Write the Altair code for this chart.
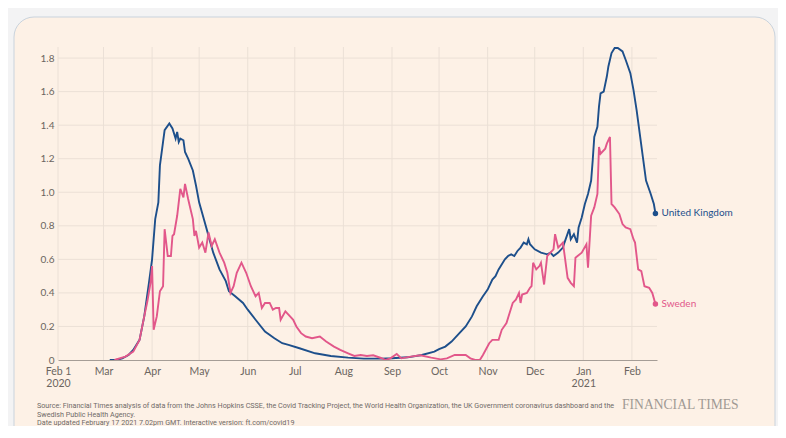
import altair as alt
import pandas as pd

# ---------------- data ----------------
uk_dates = [
    "2020-03-05", "2020-03-09", "2020-03-13", "2020-03-17", "2020-03-20", "2020-03-24",
    "2020-03-27", "2020-03-30", "2020-04-01", "2020-04-03", "2020-04-05", "2020-04-06",
    "2020-04-08", "2020-04-09", "2020-04-12", "2020-04-14", "2020-04-16", "2020-04-17",
    "2020-04-18", "2020-04-19", "2020-04-21", "2020-04-22", "2020-04-24", "2020-04-27",
    "2020-04-29", "2020-05-01", "2020-05-04", "2020-05-07", "2020-05-10", "2020-05-14",
    "2020-05-18", "2020-05-20", "2020-05-24", "2020-05-29", "2020-06-01", "2020-06-06",
    "2020-06-12", "2020-06-18", "2020-06-23", "2020-06-27", "2020-07-04", "2020-07-14",
    "2020-07-24", "2020-08-04", "2020-08-14", "2020-08-25", "2020-09-01", "2020-09-11",
    "2020-09-20", "2020-09-28", "2020-10-01", "2020-10-05", "2020-10-09", "2020-10-14",
    "2020-10-18", "2020-10-22", "2020-10-25", "2020-10-29", "2020-11-01", "2020-11-04",
    "2020-11-06", "2020-11-08", "2020-11-12", "2020-11-14", "2020-11-16", "2020-11-18",
    "2020-11-20", "2020-11-22", "2020-11-24", "2020-11-26", "2020-11-27", "2020-11-28",
    "2020-12-01", "2020-12-05", "2020-12-09", "2020-12-11", "2020-12-13", "2020-12-16",
    "2020-12-19", "2020-12-20", "2020-12-23", "2020-12-24", "2020-12-26", "2020-12-28",
    "2020-12-29", "2020-12-31", "2021-01-02", "2021-01-04", "2021-01-06", "2021-01-07",
    "2021-01-08", "2021-01-10", "2021-01-11", "2021-01-12", "2021-01-14", "2021-01-16",
    "2021-01-17", "2021-01-19", "2021-01-21", "2021-01-23", "2021-01-26", "2021-01-28",
    "2021-01-31", "2021-02-02", "2021-02-04", "2021-02-06", "2021-02-08", "2021-02-10",
    "2021-02-13", "2021-02-15", "2021-02-16",
]
uk_values = [
    0.0, 0.0, 0.01, 0.03, 0.06, 0.12,
    0.26, 0.46, 0.60, 0.84, 0.94, 1.16,
    1.30, 1.37, 1.41, 1.38, 1.32, 1.36,
    1.30, 1.32, 1.31, 1.24, 1.20, 1.13,
    1.04, 0.94, 0.84, 0.74, 0.64, 0.54,
    0.47, 0.41, 0.38, 0.34, 0.30, 0.24,
    0.17, 0.13, 0.10, 0.09, 0.07, 0.04,
    0.024, 0.014, 0.008, 0.008, 0.01, 0.016,
    0.03, 0.05, 0.065, 0.08, 0.11, 0.16,
    0.20, 0.26, 0.32, 0.38, 0.42, 0.48,
    0.50, 0.54, 0.60, 0.62, 0.63, 0.62,
    0.65, 0.67, 0.70, 0.69, 0.72, 0.69,
    0.66, 0.64, 0.63, 0.64, 0.62, 0.64,
    0.67, 0.70, 0.78, 0.72, 0.75, 0.70,
    0.79, 0.85, 0.93, 0.99, 1.07, 1.19,
    1.33, 1.39, 1.51, 1.59, 1.60, 1.69,
    1.75, 1.83, 1.86, 1.86, 1.84, 1.79,
    1.71, 1.61, 1.49, 1.35, 1.21, 1.07,
    0.99, 0.93, 0.874,
]

se_dates = [
    "2020-03-08", "2020-03-15", "2020-03-20", "2020-03-24", "2020-03-27", "2020-03-29",
    "2020-03-31", "2020-04-01", "2020-04-02", "2020-04-04", "2020-04-06", "2020-04-08",
    "2020-04-09", "2020-04-11", "2020-04-13", "2020-04-14", "2020-04-15", "2020-04-17",
    "2020-04-19", "2020-04-21", "2020-04-22", "2020-04-24", "2020-04-25", "2020-04-27",
    "2020-04-28", "2020-04-29", "2020-05-01", "2020-05-03", "2020-05-05", "2020-05-07",
    "2020-05-09", "2020-05-11", "2020-05-14", "2020-05-17", "2020-05-19", "2020-05-21",
    "2020-05-23", "2020-05-25", "2020-05-28", "2020-05-31", "2020-06-03", "2020-06-06",
    "2020-06-08", "2020-06-10", "2020-06-12", "2020-06-15", "2020-06-17", "2020-06-19",
    "2020-06-21", "2020-06-22", "2020-06-25", "2020-06-28", "2020-06-30", "2020-07-02",
    "2020-07-05", "2020-07-08", "2020-07-12", "2020-07-17", "2020-07-21", "2020-07-26",
    "2020-07-30", "2020-08-04", "2020-08-08", "2020-08-12", "2020-08-16", "2020-08-20",
    "2020-08-25", "2020-08-28", "2020-08-31", "2020-09-04", "2020-09-07", "2020-09-13",
    "2020-09-19", "2020-09-26", "2020-10-02", "2020-10-06", "2020-10-11", "2020-10-18",
    "2020-10-21", "2020-10-24", "2020-10-27", "2020-10-29", "2020-11-02", "2020-11-04",
    "2020-11-08", "2020-11-10", "2020-11-13", "2020-11-15", "2020-11-17", "2020-11-19",
    "2020-11-21", "2020-11-22", "2020-11-23", "2020-11-26", "2020-11-28", "2020-11-29",
    "2020-11-30", "2020-12-02", "2020-12-04", "2020-12-05", "2020-12-07", "2020-12-09",
    "2020-12-11", "2020-12-13", "2020-12-14", "2020-12-16", "2020-12-19", "2020-12-22",
    "2020-12-24", "2020-12-26", "2020-12-27", "2020-12-31", "2021-01-03", "2021-01-04",
    "2021-01-06", "2021-01-08", "2021-01-10", "2021-01-11", "2021-01-12", "2021-01-15",
    "2021-01-16", "2021-01-18", "2021-01-19", "2021-01-21", "2021-01-24", "2021-01-26",
    "2021-01-28", "2021-01-31", "2021-02-02", "2021-02-03", "2021-02-05", "2021-02-07",
    "2021-02-09", "2021-02-12", "2021-02-14", "2021-02-16",
]
se_values = [
    0.0, 0.02, 0.05, 0.12, 0.26, 0.35,
    0.46, 0.56, 0.18, 0.26, 0.41, 0.44,
    0.78, 0.62, 0.62, 0.74, 0.75, 0.86,
    1.02, 0.97, 1.05, 0.96, 0.92, 0.84,
    0.74, 0.77, 0.67, 0.70, 0.64, 0.76,
    0.68, 0.72, 0.64, 0.58, 0.52, 0.40,
    0.44, 0.52, 0.58, 0.52, 0.44, 0.38,
    0.40, 0.31, 0.34, 0.34, 0.30, 0.31,
    0.31, 0.24, 0.29, 0.26, 0.24, 0.20,
    0.16, 0.14, 0.13, 0.14, 0.11, 0.08,
    0.06, 0.04, 0.024, 0.03, 0.024, 0.028,
    0.012, 0.0, 0.01, 0.036, 0.01, 0.02,
    0.028, 0.014, 0.004, 0.01, 0.03, 0.03,
    0.01, 0.0, 0.0, 0.03, 0.10, 0.12,
    0.12, 0.18, 0.22, 0.28, 0.34, 0.36,
    0.40, 0.34, 0.39, 0.40, 0.43, 0.44,
    0.58, 0.54, 0.56, 0.58, 0.45, 0.62,
    0.64, 0.66, 0.75, 0.67, 0.70, 0.49,
    0.46, 0.44, 0.61, 0.64, 0.69, 0.55,
    0.86, 0.91, 0.99, 1.27, 1.23, 1.26,
    1.29, 1.33, 0.93, 0.91, 0.87, 0.81,
    0.79, 0.78, 0.72, 0.70, 0.54, 0.53,
    0.44, 0.43, 0.40, 0.334,
]

countries = ["United Kingdom", "Sweden"]
country_colors = ["#1d4f8b", "#e2578a"]
label_colors = ["#3a5378", "#e2779f"]

month_ticks = [(2020, m) for m in range(2, 13)] + [(2021, 1), (2021, 2)]
y_ticks = [0, 0.2, 0.4, 0.6, 0.8, 1.0, 1.2, 1.4, 1.6, 1.8]

footer_lines = [
    "Source: Financial Times analysis of data from the Johns Hopkins CSSE, the Covid Tracking Project, the World Health Organization, the UK Government coronavirus dashboard and the",
    "Swedish Public Health Agency.",
    "Date updated February 17 2021 7.02pm GMT. Interactive version: ft.com/covid19",
]
brand = "FINANCIAL TIMES"

# ---------------- tables ----------------
df = pd.concat([
    pd.DataFrame({"date": uk_dates, "value": uk_values, "country": countries[0]}),
    pd.DataFrame({"date": se_dates, "value": se_values, "country": countries[1]}),
], ignore_index=True)
last = pd.DataFrame({
    "date": [uk_dates[-1], se_dates[-1]],
    "value": [uk_values[-1], se_values[-1]],
    "country": countries,
})
months_df = pd.DataFrame({"m": [f"{y}-{m:02d}-01" for y, m in month_ticks]})
ygrid_df = pd.DataFrame({"v": [v for v in y_ticks if v > 0]})

W, H = 599, 313
FONT = "Lato"
FOOT_FONT = "Roboto"

x_scale = alt.Scale(
    type="utc",
    domain=[alt.DateTime(year=2020, month=2, date=1, utc=True),
            alt.DateTime(year=2021, month=2, date=17, utc=True)],
)
y_scale = alt.Scale(domain=[0, 1.866], nice=False, zero=True)

x_axis = alt.Axis(
    title=None, grid=False, ticks=False, domain=True, domainColor="#a59d96",
    zindex=1,
    values=[alt.DateTime(year=y, month=m, date=1, utc=True) for y, m in month_ticks],
    labelExpr="utcFormat(datum.value, '%Y-%m') == '2020-02' ? ['Feb 1', '2020'] : "
              "utcFormat(datum.value, '%Y-%m') == '2021-01' ? ['Jan', '2021'] : "
              "utcFormat(datum.value, '%b')",
    labelFont=FONT, labelFontSize=10.5, labelColor="#6b6560",
    labelPadding=6, labelLineHeight=12, labelBaseline="top", labelFlush=False,
    labelOverlap=False,
)
y_axis = alt.Axis(
    title=None, grid=False, ticks=False, domain=False, values=y_ticks, zindex=1,
    labelExpr="datum.value == 0 ? '0' : format(datum.value, '.1f')",
    labelFont=FONT, labelFontSize=10, labelColor="#6b6560", labelPadding=4,
)

color_scale = alt.Scale(domain=countries, range=country_colors)

card = alt.Chart(pd.DataFrame({"k": [0]})).mark_rect(
    fill="#fdf1e6", stroke="#c9d3dd", strokeWidth=1, cornerRadius=20,
).encode(
    x=alt.value(-44), x2=alt.value(717), y=alt.value(-30), y2=alt.value(420),
)

vgrid = alt.Chart(months_df).mark_rule(color="#ebe0d6", strokeWidth=1).encode(
    x=alt.X("m:T", scale=x_scale, axis=x_axis),
)
hgrid = alt.Chart(ygrid_df).mark_rule(color="#ebe0d6", strokeWidth=1).encode(
    y=alt.Y("v:Q", scale=y_scale, axis=y_axis),
)

lines = alt.Chart(df).mark_line(strokeWidth=1.9, interpolate="linear").encode(
    x=alt.X("date:T", scale=x_scale, axis=x_axis),
    y=alt.Y("value:Q", scale=y_scale, axis=y_axis),
    color=alt.Color("country:N", scale=color_scale, legend=None),
    detail="country:N",
)

dots = alt.Chart(last).mark_circle(size=30, opacity=1).encode(
    x=alt.X("date:T", scale=x_scale, axis=x_axis),
    y=alt.Y("value:Q", scale=y_scale, axis=y_axis),
    color=alt.Color("country:N", scale=color_scale, legend=None),
)

labels = alt.Chart(last).mark_text(
    align="left", baseline="middle", dx=6, font=FONT, fontSize=10,
).encode(
    x=alt.X("date:T", scale=x_scale, axis=x_axis),
    y=alt.Y("value:Q", scale=y_scale, axis=y_axis),
    text="country:N",
    color=alt.Color("country:N", scale=alt.Scale(domain=countries, range=label_colors), legend=None),
)

footer_layers = []
for i, t in enumerate(footer_lines):
    footer_layers.append(
        alt.Chart(pd.DataFrame({"t": [t]})).mark_text(
            align="left", baseline="middle", font=FOOT_FONT,
            fontSize=7.2, color="#6f6a66",
        ).encode(x=alt.value(-21), y=alt.value(359 + i * 8.5), text="t:N")
    )

brand_layer = alt.Chart(pd.DataFrame({"t": [brand]})).mark_text(
    align="left", baseline="middle", font="Liberation Serif", fontSize=13.6,
    color="#a09a94",
).encode(x=alt.value(564), y=alt.value(358), text="t:N")

chart = alt.layer(
    card, vgrid, hgrid, lines, dots, labels, *footer_layers, brand_layer,
).properties(
    width=W, height=H,
    padding={"left": 50, "top": 39, "right": 121, "bottom": 66},
    autosize=alt.AutoSizeParams(type="none"),
    background="#f3f3f4",
).configure_view(stroke=None)

chart.save("out.html", embed_options={"renderer": "svg", "actions": False})
